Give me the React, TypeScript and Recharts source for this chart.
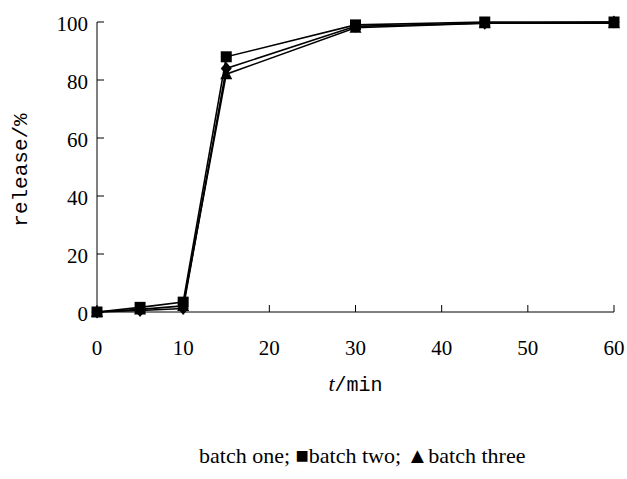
import { Line, LineChart, XAxis, YAxis } from "recharts";

const times = [0, 5, 10, 15, 30, 45, 60];
const batchOne = [0, 0.5, 1.2, 84, 98.5, 99.6, 100];
const batchTwo = [0, 1.6, 3.4, 88, 99, 100, 100];
const batchThree = [0, 0.9, 2.1, 82, 98, 99.6, 99.6];
const xTicks = [0, 10, 20, 30, 40, 50, 60];
const yTicks = [0, 20, 40, 60, 80, 100];

const data = times.map((t, i) => ({
  t,
  one: batchOne[i],
  two: batchTwo[i],
  three: batchThree[i]
}));

const serif = "'Liberation Serif', 'Times New Roman', serif";
const mono = "'Liberation Mono', 'Courier New', monospace";

function SquareDot(props: any) {
  const { cx, cy, index } = props;
  return <rect key={`sq-${index}`} x={cx - 5.5} y={cy - 5.5} width={11} height={11} fill="#000" />;
}

function DiamondDot(props: any) {
  const { cx, cy, index } = props;
  return <path key={`dm-${index}`} d={`M${cx},${cy - 6.5}L${cx + 5.5},${cy}L${cx},${cy + 6.5}L${cx - 5.5},${cy}Z`} fill="#000" />;
}

function TriangleDot(props: any) {
  const { cx, cy, index } = props;
  return <path key={`tr-${index}`} d={`M${cx},${cy - 6.5}L${cx + 6},${cy + 5}L${cx - 6},${cy + 5}Z`} fill="#000" />;
}

function XTick(props: any) {
  const { x, y, payload } = props;
  return (
    <text x={x} y={y} dy={14} textAnchor="middle" fontFamily={serif} fontSize={21} fill="#000">
      {payload.value}
    </text>
  );
}

function YTick(props: any) {
  const { x, y, payload } = props;
  return (
    <text x={x + 5} y={y} dy={9} textAnchor="end" fontFamily={serif} fontSize={21} fill="#000">
      {payload.value}
    </text>
  );
}

function XLabel(props: any) {
  const { viewBox } = props;
  const cx = viewBox.x + viewBox.width / 2;
  return (
    <text x={cx} y={391} textAnchor="middle" fontFamily={mono} fontSize={20} fill="#000">
      <tspan fontStyle="italic" fontFamily={serif} fontSize={22}>t</tspan>
      <tspan>/min</tspan>
    </text>
  );
}

function YLabel() {
  return (
    <text x={27} y={170} textAnchor="middle" fontFamily={mono} fontSize={21} fill="#000" transform="rotate(-90 27 170)">
      release/%
    </text>
  );
}

export default function App() {
  return (
    <div style={{ position: "absolute", left: 0, top: 0, width: 627, height: 479, background: "#fff", fontFamily: serif }}>
      <LineChart width={627} height={479} data={data} margin={{ top: 22, right: 13, bottom: 107, left: 0 }}>
        <XAxis
          dataKey="t"
          type="number"
          domain={[0, 60]}
          ticks={xTicks}
          stroke="#000"
          tickSize={-7}
          tickMargin={36}
          height={60}
          tick={<XTick />}
          label={<XLabel />}
        />
        <YAxis
          type="number"
          domain={[0, 100]}
          ticks={yTicks}
          stroke="#000"
          width={97}
          tickSize={-7}
          tickMargin={21}
          tick={<YTick />}
          label={<YLabel />}
        />
        <Line dataKey="three" stroke="#000" strokeWidth={1.6} dot={TriangleDot} isAnimationActive={false} />
        <Line dataKey="one" stroke="#000" strokeWidth={1.6} dot={DiamondDot} isAnimationActive={false} />
        <Line dataKey="two" stroke="#000" strokeWidth={1.6} dot={SquareDot} isAnimationActive={false} />
      </LineChart>
      <div
        style={{
          position: "absolute",
          left: 199,
          top: 443,
          fontFamily: serif,
          fontSize: 22,
          color: "#000",
          whiteSpace: "nowrap"
        }}
      >
        batch one; ■batch two; ▲batch three
      </div>
    </div>
  );
}
